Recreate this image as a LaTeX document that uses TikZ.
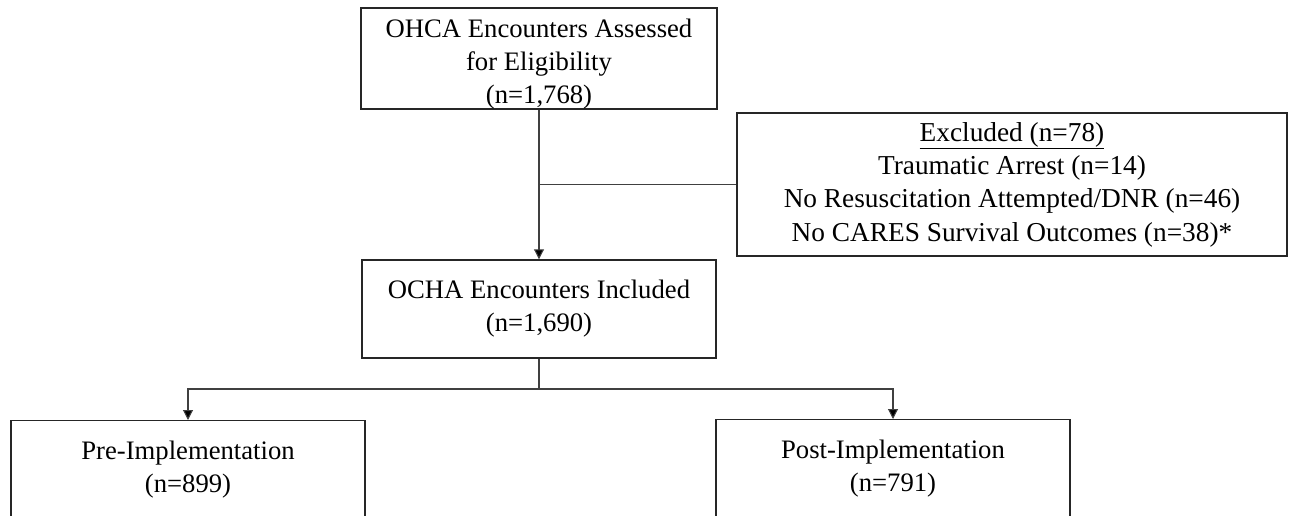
\documentclass[tikz,border=0pt]{standalone}
\usepackage{fontspec}
\setmainfont{Liberation Serif}
\usetikzlibrary{arrows.meta}
\begin{document}
\begin{tikzpicture}[x=0.75pt,y=-0.75pt,
  box/.style={draw=black!85,line width=1.1pt,align=center,inner sep=0pt,
    font=\fontsize{20pt}{24.75pt}\selectfont},
  conn/.style={draw=black!75,line width=0.8pt},
  arr/.style={conn,-{Triangle[length=7.5pt,width=7.5pt,fill=black]}}]
\useasboundingbox (0,0) rectangle (1290,515);
\clip (0,0) rectangle (1290,515);
\node[box,minimum width=267pt,minimum height=74.25pt] (top) at (539,58.5)
  {\rule{0pt}{22pt}OHCA Encounters Assessed\\for Eligibility\\(n=1,768)};
\node[box,minimum width=412.5pt,minimum height=107.25pt,
  font=\fontsize{20.5pt}{25pt}\selectfont] (excl) at (1012,184.5)
  {\underline{Excluded (n=78)}\\Traumatic Arrest (n=14)\\No Resuscitation Attempted/DNR (n=46)\\No CARES Survival Outcomes (n=38)*};
\node[box,minimum width=265.5pt,minimum height=73.5pt] (mid) at (539,309)
  {OCHA Encounters Included\\(n=1,690)};
\node[box,minimum width=265.5pt,minimum height=73.5pt,anchor=north] (pre) at (188,420)
  {Pre-Implementation\\(n=899)};
\node[box,minimum width=265.5pt,minimum height=73.5pt,anchor=north] (post) at (893,419)
  {Post-Implementation\\(n=791)};
\coordinate (split) at (539,389);
\draw[arr] (top.south) -- (mid.north);
\draw[conn] (top.south |- excl.west) -- (excl.west);
\draw[conn] (mid.south) -- (split);
\draw[arr] (split) -| (pre.north);
\draw[arr] (split) -| (post.north);
\end{tikzpicture}
\end{document}
